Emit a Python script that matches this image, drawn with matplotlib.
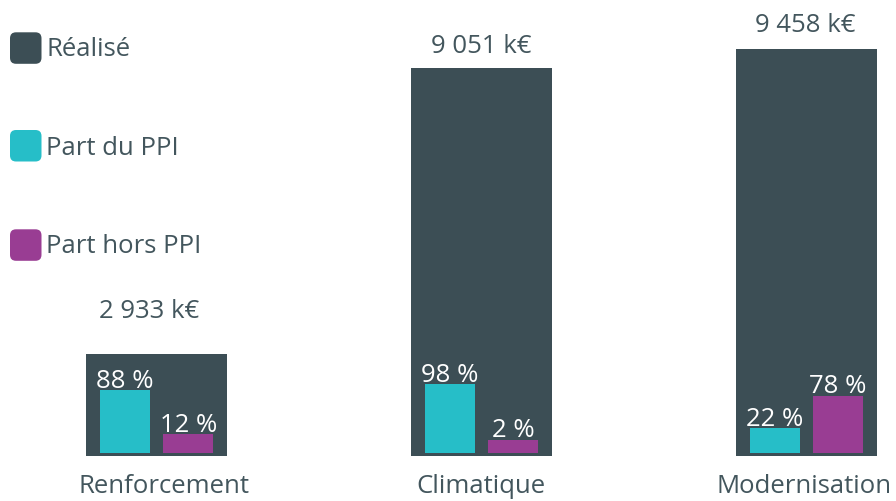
import numpy as np
import matplotlib
matplotlib.use("Agg")
import matplotlib.pyplot as plt
from matplotlib.patches import FancyBboxPatch

# ---- data ----
categories = ["Renforcement", "Climatique", "Modernisation"]
realise_keur = [2933, 9051, 9458]
part_ppi_pct = [88, 98, 22]
part_hors_ppi_pct = [12, 2, 78]
legend_labels = ["Réalisé", "Part du PPI", "Part hors PPI"]

# ---- style ----
C_DARK = "#3c4e55"
C_TEAL = "#26bec8"
C_PURPLE = "#993d93"
C_TEXT = "#43565d"
FONT = ["Open Sans", "DejaVu Sans"]
plt.rcParams["font.family"] = FONT

W, H, DPI = 896, 501, 100
fig = plt.figure(figsize=(W / DPI, H / DPI), dpi=DPI)

base_px = 45.3
ax = fig.add_axes([0, base_px / H, 1, 1 - base_px / H])
x = np.arange(len(categories))
ax.set_xlim(-0.4815, 2.2754)
ax.set_ylim(773, 10498)

outer_w = 0.434
ax.bar(x, realise_keur, width=outer_w, color=C_DARK, zorder=1)

ax2 = ax.twinx()
ax2.set_position(ax.get_position())
ax2.set_ylim(-25, 762)
inner_w = 0.154
off = 0.0975
floor = -20
ppi = np.array(part_ppi_pct)
hors = np.array(part_hors_ppi_pct)
ax2.bar(x - off, ppi - floor, bottom=floor, width=inner_w, color=C_TEAL, zorder=2)
ax2.bar(x + off, hors - floor, bottom=floor, width=inner_w, color=C_PURPLE, zorder=2)

for a in (ax, ax2):
    for s in a.spines.values():
        s.set_visible(False)
    a.set_xticks([])
    a.set_yticks([])
    a.patch.set_alpha(0)

px2pt = 72 / DPI
FS = 18.5

# value labels above outer bars
label_pad_px = [36, 15.3, 16.3]
label_dx_px = [-7, 0, -1]
for xi, v, pad, dx in zip(x, realise_keur, label_pad_px, label_dx_px):
    txt = f"{v:,}".replace(",", " ") + " k€"
    ax.annotate(txt, (xi, v), xytext=(dx * px2pt, pad * px2pt), textcoords="offset points",
                ha="center", va="baseline", fontsize=FS, color=C_TEXT, clip_on=False)

# percentage labels
for xi, p, q in zip(x, ppi, hors):
    ax2.annotate(f"{p} %", (xi - off, p), xytext=(0, 2.7 * px2pt), textcoords="offset points",
                 ha="center", va="baseline", fontsize=FS, color="white")
    ax2.annotate(f"{q} %", (xi + off, q), xytext=(0, 2.7 * px2pt), textcoords="offset points",
                 ha="center", va="baseline", fontsize=FS, color="white")

# category labels
cat_dx_px = [8, -1, -2]
for xi, c, dx in zip(x, categories, cat_dx_px):
    ax.annotate(c, (xi, 0), xycoords=("data", "axes fraction"),
                xytext=(dx * px2pt, -37.6 * px2pt), textcoords="offset points",
                ha="center", va="baseline", fontsize=FS, color=C_TEXT, annotation_clip=False)

# legend
leg_colors = [C_DARK, C_TEAL, C_PURPLE]
box_tops = [32.3, 130, 229.3]
baselines = [56, 155, 253.3]
bs = 31.5
for lab, col, top, bl in zip(legend_labels, leg_colors, box_tops, baselines):
    r = 6
    p = FancyBboxPatch(((10 + r) / W, 1 - (top + bs - r) / H),
                       (bs - 2 * r) / W, (bs - 2 * r) / H,
                       boxstyle=f"round,pad={r / W}", transform=fig.transFigure,
                       facecolor=col, edgecolor="none", mutation_aspect=W / H)
    fig.patches.append(p)
    fig.text(46 / W, 1 - bl / H, lab, ha="left", va="baseline", fontsize=FS, color=C_TEXT)

fig.savefig("out.png", dpi=DPI)
